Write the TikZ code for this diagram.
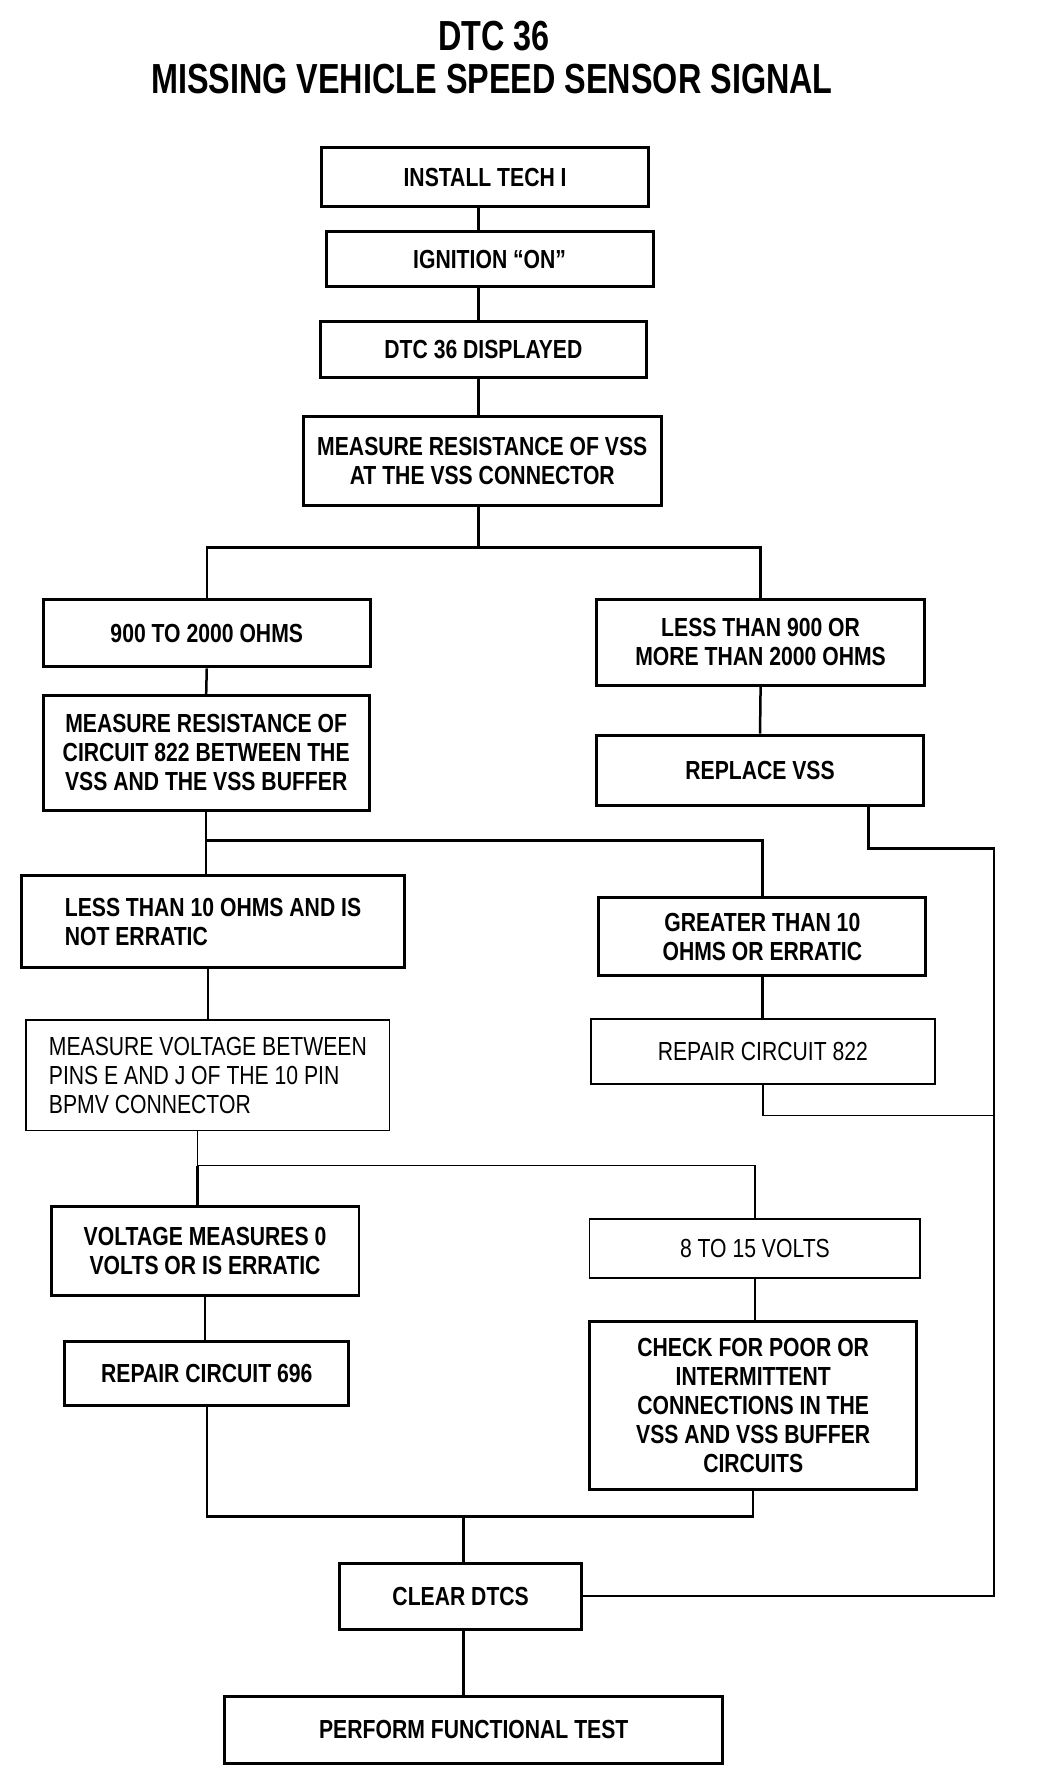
\documentclass[tikz,border=0pt]{standalone}
\usepackage{fontspec}
\newfontfamily\chartfont{Liberation Sans}[FakeStretch=0.81]
\newfontfamily\headfont{Liberation Sans}[FakeStretch=0.77]

\begin{document}
\begin{tikzpicture}[x=1pt,y=-1pt,
	box/.style={draw, line width=2.6pt, inner sep=0pt, align=center, font=\chartfont\bfseries\fontsize{23}{25.5}\selectfont},
	faint/.style={line width=1.3pt, font=\chartfont\fontsize{23}{25.5}\selectfont},
	wh/.style 2 args={minimum width=#1, minimum height=#2},
	link/.style={line width=2.2pt}]
	\useasboundingbox (0,0) rectangle (929,1558);
	\node[font=\headfont\bfseries\fontsize{37}{40}\selectfont] (dtc) at (435,32) {DTC 36};
	\node[font=\headfont\bfseries\fontsize{37}{40}\selectfont] (name) at (433,70) {MISSING VEHICLE SPEED SENSOR SIGNAL};
	\node[box, wh={288}{52}] (install) at (427,156) {INSTALL TECH I};%1
	\node[box, wh={288}{48}] (ign) at (431,228) {IGNITION “ON”};%2
	\node[box, wh={287}{49}] (disp) at (425.5,307.5) {DTC 36 DISPLAYED};%3
	\node[box, wh={315}{78}] (meas) at (424.5,406) {MEASURE RESISTANCE OF VSS\\AT THE VSS CONNECTOR};%4
	\node[box, wh={288}{59}] (ohmok) at (182,557.5) {900 TO 2000 OHMS};%5
	\node[box, wh={289}{75}] (ohmbad) at (669.5,565.5) {LESS THAN 900 OR\\MORE THAN 2000 OHMS};%6
	\node[box, wh={287}{101}] (meas822) at (181.5,662.5) {MEASURE RESISTANCE OF\\CIRCUIT 822 BETWEEN THE\\VSS AND THE VSS BUFFER};%7
	\node[box, wh={288}{62}] (replace) at (669,678) {REPLACE VSS};%8
	\node[box, wh={337}{81}, align=left] (low10) at (187.5,811.5) {LESS THAN 10 OHMS AND IS\\NOT ERRATIC};%9
	\node[box, wh={288}{69}] (high10) at (671,824.5) {GREATER THAN 10\\OHMS OR ERRATIC};%10
	\node[box, faint, wh={320}{97}, align=left] (measv) at (183,946.5) {MEASURE VOLTAGE BETWEEN\\PINS E AND J OF THE 10 PIN\\BPMV CONNECTOR};%11
	\node[box, faint, wh={303}{57}] (rep822) at (671.5,925.5) {REPAIR CIRCUIT 822};%12
	\node[box, wh={271}{78}] (zero) at (180.5,1101) {VOLTAGE MEASURES 0\\VOLTS OR IS ERRATIC};%13
	\node[box, faint, wh={291}{52}] (volts) at (664.5,1099) {8 TO 15 VOLTS};%14
	\node[box, wh={250}{56}] (rep696) at (182,1209) {REPAIR CIRCUIT 696};%15
	\node[box, wh={288}{148}] (check) at (663,1237) {CHECK FOR POOR OR\\INTERMITTENT\\CONNECTIONS IN THE\\VSS AND VSS BUFFER\\CIRCUITS};%16
	\node[box, wh={213}{58}] (clear) at (405.5,1405) {CLEAR DTCS};%17
	\node[box, wh={438}{59}] (perform) at (417,1522.5) {PERFORM FUNCTIONAL TEST};%18
	\coordinate (spine) at (421,482);
	\coordinate (split2) at (182,740);
	\coordinate (rail) at (875,747);
	\coordinate (rejoin) at (875,982);
	\coordinate (split3) at (174,1026);
	\coordinate (join) at (408,1335);
	\draw[link] (install.south -| spine) -- (ign.north -| spine);
	\draw[link] (ign.south -| spine) -- (disp.north -| spine);
	\draw[link] (disp.south -| spine) -- (meas.north -| spine);
	\draw[link] (meas.south -| spine) -- (spine);
	\draw[link] (ohmok.north) |- (spine) -| (ohmbad.north);
	\draw[link] (ohmok.south) -- (meas822.north);
	\draw[link] (ohmbad.south) -- (replace.north);
	\draw[link] (meas822.south) -- (meas822.south |- low10.north);
	\draw[link] (split2) -| (high10.north);
	\draw[link] ([xshift=-50pt]replace.south east) |- (rail) |- (clear.east);
	\draw[link] (low10.south -| measv.north) -- (measv.north);
	\draw[link] (high10.south) -- (high10.south |- rep822.north);
	\draw[link, faint] (rep822.south) |- (rejoin);
	\draw[link, faint] (measv.south -| split3) -- (split3) -| (volts.north);
	\draw[link] (split3) -- (split3 |- zero.north);
	\draw[link] (zero.south) -- (zero.south |- rep696.north);
	\draw[link] (volts.south) -- (volts.south |- check.north);
	\draw[link] (rep696.south) |- (join) -| (check.south);
	\draw[link] (join) -- (join |- clear.north);
	\draw[link] (clear.south -| join) -- (perform.north -| join);
\end{tikzpicture}
\end{document}
